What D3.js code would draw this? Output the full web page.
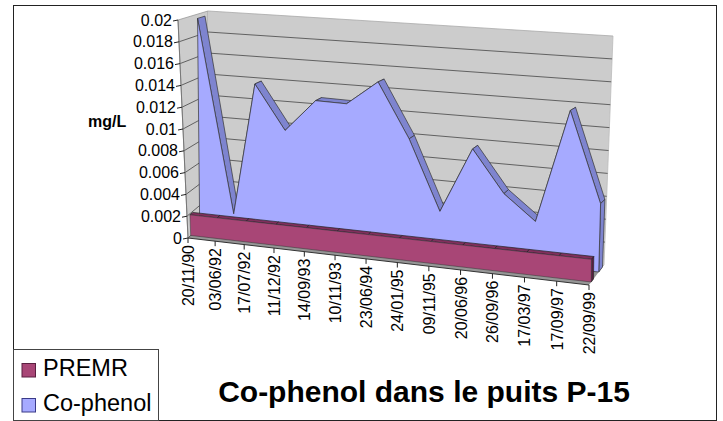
<!DOCTYPE html>
<html><head><meta charset="utf-8">
<script src="https://d3js.org/d3.v7.min.js"></script>
<style>html,body{margin:0;padding:0;background:#fff}svg{display:block}text{font-family:"Liberation Sans",Arial,sans-serif;fill:#000}</style>
</head><body><svg id="c" width="723" height="421"></svg>
<script>
const categories=["20/11/90","03/06/92","17/07/92","11/12/92","14/09/93","10/11/93","23/06/94","24/01/95","09/11/95","20/06/96","26/09/96","17/03/97","17/09/97","22/09/99"];
const cophenol=[.0196,.00158,.01385,.00978,.01275,.01269,.01489,.0100,.00379,.0096,.00592,.00377,.01366,.00587];
const premr=[.0019,.0019,.0019,.0019,.0019,.0019,.0019,.0019,.0019,.0019,.0019,.0019,.0019,.0019];
const yTicks=[0,.002,.004,.006,.008,.01,.012,.014,.016,.018,.02];
const legendItems=["PREMR","Co-phenol"];
const title="Co-phenol dans le puits P-15";
const yTitle="mg/L";

const svg=d3.select("#c");
const U=d3.scalePow().exponent(1.05).domain([0,13]).range([0,1]);
const W=d3.scaleLinear().domain([0,.02]).range([0,1]);
// the back ribbon's second vertex sits slightly right of its category in the reference's 3D projection
const coIndex=d3.scaleLinear().domain([0,1,2,13]).range([0,1.25,2,13]);
// projected corners of the chart box: f front, b back, 0 floor, 1 top
const C={fl0:[188,238],fr0:[589,285],bl0:[206,221],br0:[604,265],fl1:[178,20],fr1:[590,45],bl1:[208,11],br1:[613,36]};
const mix=(a,b,t)=>[a[0]+(b[0]-a[0])*t,a[1]+(b[1]-a[1])*t];
function P(u,d,v){const t=U(u),h=W(v);
  const f0=mix(C.fl0,C.fr0,t),f1=mix(C.fl1,C.fr1,t),b0=mix(C.bl0,C.br0,t),b1=mix(C.bl1,C.br1,t);
  return mix(mix(f0,b0,d),mix(f1,b1,d),h);}
const poly=(pts,fill,stroke,sw)=>svg.append("path").attr("d",d3.line()(pts)+"Z").attr("fill",fill).attr("stroke",stroke||"none").attr("stroke-width",sw||0);
const seg=(a,b,col,sw)=>svg.append("line").attr("x1",a[0]).attr("y1",a[1]).attr("x2",b[0]).attr("y2",b[1]).attr("stroke",col).attr("stroke-width",sw||1);

// frame
svg.append("rect").attr("x",13.5).attr("y",5.5).attr("width",703).attr("height",415).attr("fill","#fff").attr("stroke","#222").attr("stroke-width",1);

// walls and floor
poly([P(0,0,0),P(0,1,0),P(13,1,0),P(13,0,0)],"#969696");
poly([P(0,0,0),P(0,1,0),P(0,1,.02),P(0,0,.02)],"#cccccc","#999",.8);
poly([P(0,1,0),P(13,1,0),P(13,1,.02),P(0,1,.02)],"#cccccc");
seg(P(0,1,.02),P(13,1,.02),"#aaa",.8);seg(P(13,1,0),P(13,1,.02),"#bbb",.8);
yTicks.slice(1,-1).forEach(v=>{seg(P(0,1,v),P(13,1,v),"#555",.9);});
yTicks.slice(0,-1).forEach(v=>{seg(P(0,0,v),P(0,1,v),"#555",.9);});

// Co-phenol ribbon
const dF=.65,dB=.9;
const idx=d3.range(14);
idx.slice(0,-1).forEach(i=>{
  const a=coIndex(i),b=coIndex(i+1);
  poly([P(a,dF,cophenol[i]),P(a,dB,cophenol[i]),P(b,dB,cophenol[i+1]),P(b,dF,cophenol[i+1])],"#7e84cf","#333",.7);
});
poly([P(13,dF,0),P(13,dB,0),P(13,dB,cophenol[13]),P(13,dF,cophenol[13])],"#7e84cf","#333",.7);
poly([P(0,dF,0),...idx.map(i=>P(coIndex(i),dF,cophenol[i])),P(13,dF,0)],"#a6aaff","#333",.7);

// PREMR ribbon
const pF=.15,pB=.3;
idx.slice(0,-1).forEach(i=>{
  poly([P(i,pF,premr[i]),P(i,pB,premr[i]),P(i+1,pB,premr[i+1]),P(i+1,pF,premr[i+1])],"#7f2f5c","#222",.7);
});
poly([P(13,pF,0),P(13,pB,0),P(13,pB,premr[13]),P(13,pF,premr[13])],"#571f3f","#222",.6);
poly([P(0,pF,0),...idx.map(i=>P(i,pF,premr[i])),P(13,pF,0)],"#a84676","#333",.5);

// value axis
seg(P(0,0,0),P(0,0,.02),"#777",1);
yTicks.forEach(v=>{const p=P(0,0,v);seg(p,[p[0]-5,p[1]+1],"#222",1);
  svg.append("text").attr("x",p[0]-6).attr("y",p[1]+5.5).attr("text-anchor","end").attr("font-size",16).text(v);});
// category axis
seg(P(0,0,0),P(13,0,0),"#333",1);
categories.forEach((c,i)=>{const p=P(i,0,0);seg(p,[p[0],p[1]+5],"#222",1);
  svg.append("text").attr("transform",`translate(${p[0]+6},${p[1]+7}) rotate(-90)`).attr("text-anchor","end").attr("font-size",16).text(c);});

svg.append("text").attr("x",88).attr("y",126.5).attr("font-size",16).attr("font-weight","bold").text(yTitle);
svg.append("text").attr("x",424).attr("y",402).attr("text-anchor","middle").attr("font-size",30).attr("font-weight","bold").text(title);

// legend
svg.append("rect").attr("x",13.5).attr("y",349.5).attr("width",145).attr("height",71).attr("fill","#fff").attr("stroke","#444");
const legendFill=["#a84676","#a6aaff"],legendStroke=["#5a1f40","#3a3a88"];
legendItems.forEach((l,i)=>{const y=363+i*35;
  svg.append("rect").attr("x",22).attr("y",y+.5).attr("width",13.5).attr("height",13.5).attr("fill",legendFill[i]).attr("stroke",legendStroke[i]);
  svg.append("text").attr("x",43).attr("y",y+12.5).attr("font-size",23.5).text(l);});
</script></body></html>
